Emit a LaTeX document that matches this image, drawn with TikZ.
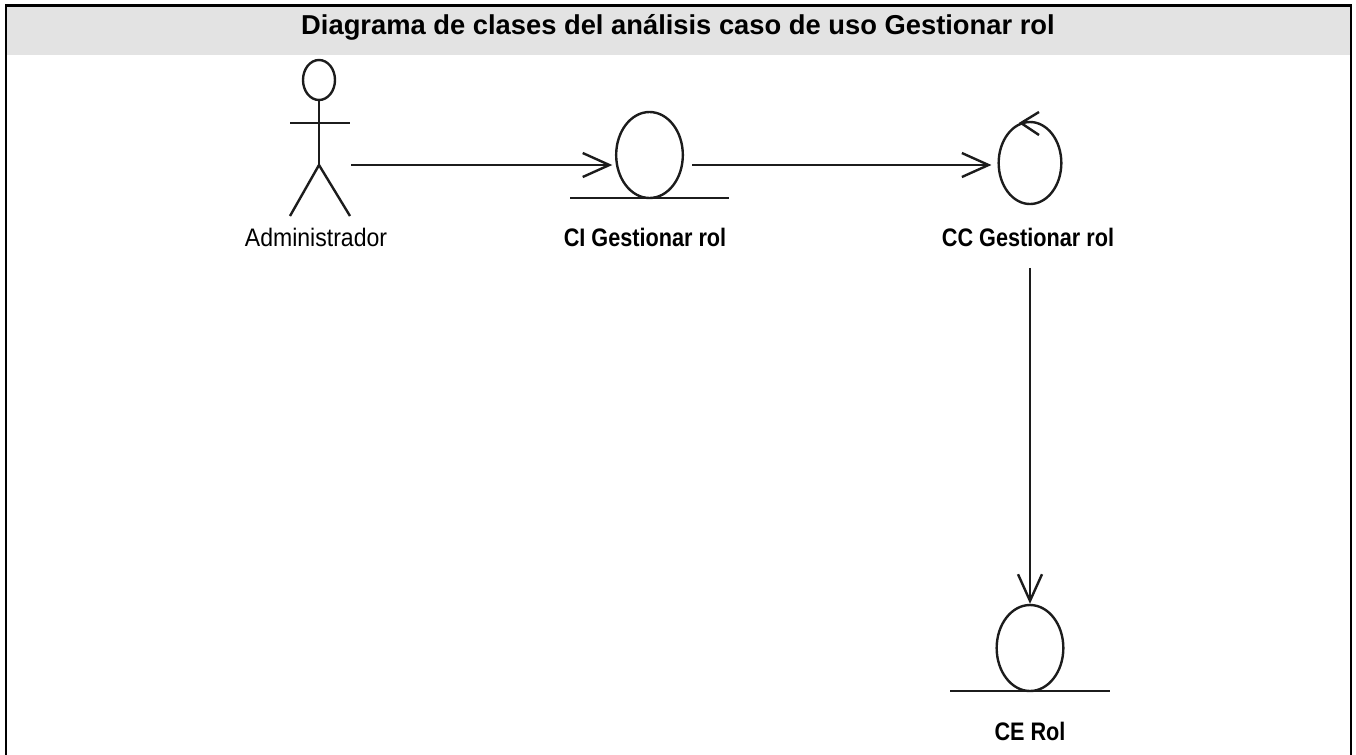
\documentclass[tikz,border=0pt]{standalone}
\usepackage{fontspec}
\usepackage{tikz}
\usetikzlibrary{arrows.meta}
\usetikzlibrary{shapes.geometric}
\setmainfont{Liberation Sans}
\newfontfamily\umlfont[FakeStretch=0.91]{Liberation Sans}
\newfontfamily\umlboldfont[FakeStretch=0.855]{Liberation Sans Bold}
\definecolor{bandgray}{HTML}{E3E3E3}
\definecolor{umlink}{HTML}{1C1C1C}
\tikzset{
  >={Straight Barb[length=20pt, width=18pt, line width=1.8pt]},
  frameline/.style={line width=2.2pt, line cap=rect},
  umlline/.style={draw=umlink, line width=1.8pt},
  association/.style={umlline, ->},
  classbody/.style={
    umlline, ellipse, inner sep=0pt, minimum width=50pt, minimum height=64.5pt
  },
  classlabel/.style={
    font=\umlfont\fontsize{19}{21}\selectfont, text=black, inner sep=0pt
  },
  strongclasslabel/.style={
    font=\umlboldfont\fontsize{19}{21}\selectfont, text=black, inner sep=0pt
  }
}
\begin{document}
\begin{tikzpicture}[x=0.75pt, y=-0.75pt]
    \useasboundingbox (0,0) rectangle (1356,754);

    \fill [bandgray] (6,6) rectangle (1351,55);
    \draw [frameline] (6,754) -- (6,5.6) -- (1351,5.6) -- (1351,754);
    \node (Title) at (678,27) [font=\bfseries\fontsize{20.5}{22}\selectfont, inner sep=0pt]
      {Diagrama de clases del análisis caso de uso Gestionar rol};

    % actor
    \node (ActorHead) at (319,80) [umlline, ellipse, inner sep=0pt,
      minimum width=24pt, minimum height=30pt] {};
    \coordinate (ActorHip)   at (319,165);
    \coordinate (ActorHandL) at (290,123);
    \coordinate (ActorHandR) at (350,123);
    \coordinate (ActorFootL) at (290,216);
    \coordinate (ActorFootR) at (350,216);
    \coordinate (ActorOut)   at (351,165);
    \draw [umlline] (ActorHead) -- (ActorHip);
    \draw [umlline] (ActorHandL) -- (ActorHandR);
    \draw [umlline] (ActorFootL) -- (ActorHip) -- (ActorFootR);
    \node (ActorLabel) at (316,237) [classlabel] {Administrador};

    % interface
    \node (CI) at (649.5,155) [classbody] {};
    \coordinate (CIBaseL) at (570,198);
    \coordinate (CIBaseR) at (729,198);
    \draw [umlline] (CIBaseL) -- (CIBaseR);
    \node (CILabel) at (645,237) [strongclasslabel] {CI Gestionar rol};

    % control
    \node (CC) at (1030,163) [classbody, minimum width=47pt, minimum height=61.5pt] {};
    \coordinate (CCBarbT) at (1039,112);
    \coordinate (CCTip)   at (1021,123);
    \coordinate (CCBarbB) at (1039,135);
    \draw [umlline] (CCBarbT) -- (CCTip) -- (CCBarbB);
    \node (CCLabel) at (1028,237) [strongclasslabel] {CC Gestionar rol};

    % entity
    \node (CE) at (1030,648) [classbody] {};
    \coordinate (CEBaseL) at (950,691);
    \coordinate (CEBaseR) at (1110,691);
    \draw [umlline] (CEBaseL) -- (CEBaseR);
    \node (CELabel) at (1030,731) [strongclasslabel] {CE Rol};

    \draw [association, shorten >=2pt] (ActorOut) -- (ActorOut -| CI.west);
    \draw [association, shorten <=6pt, shorten >=4.5pt] (ActorOut -| CI.east) -- (ActorOut -| CC.west);
    \draw [association, shorten <=16pt] (CCLabel.south -| CC) -- (CE.north);
\end{tikzpicture}
\end{document}
